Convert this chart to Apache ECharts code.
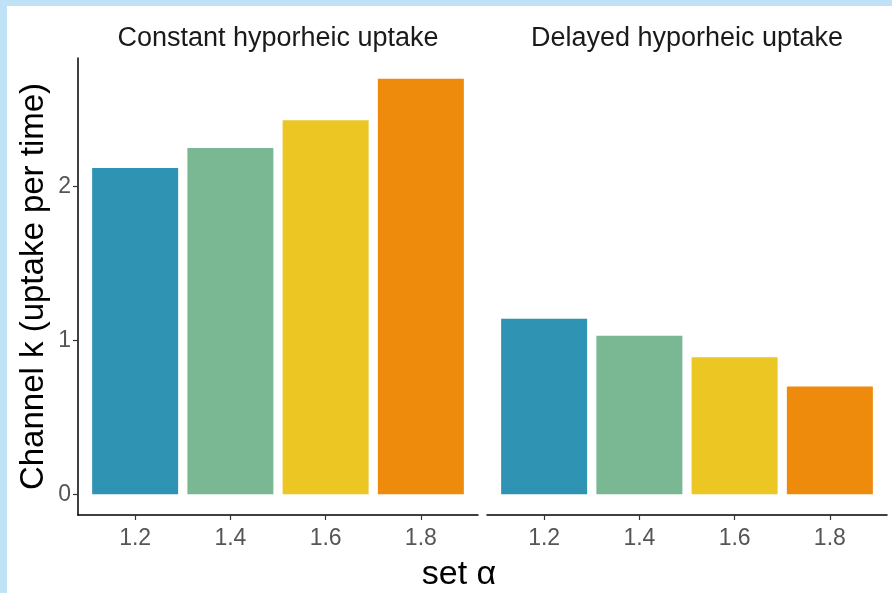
<!DOCTYPE html>
<html>
<head>
<meta charset="utf-8">
<script src="https://cdn.jsdelivr.net/npm/echarts@6/dist/echarts.min.js"></script>
<style>
  html, body { margin: 0; padding: 0; width: 892px; height: 593px; overflow: hidden; background: #c0e2f6; }
  #chart { position: absolute; left: 7px; top: 6px; width: 885px; height: 587px; background: #ffffff; }
</style>
</head>
<body>
<div id="chart"></div>
<script>
// alpha settings shown on the x axis of each facet
const alphaLabels = ['1.2', '1.4', '1.6', '1.8'];
// facet titles
const panelTitles = ['Constant hyporheic uptake', 'Delayed hyporheic uptake'];
// channel uptake rate k for each alpha
const constantK = [2.12, 2.25, 2.43, 2.70];
const delayedK = [1.14, 1.03, 0.89, 0.70];
// y tick values
const yTicks = [0, 1, 2];
// one colour per alpha
const alphaColors = ['#2f93b3', '#7ab894', '#ecc623', '#ee8b0c'];

const chart = echarts.init(document.getElementById('chart'), null, { renderer: 'canvas' });

// ggplot-style padding: 5% on the continuous axis, 0.6 category on each side
const allK = constantK.concat(delayedK);
const kMax = Math.max.apply(null, allK);
const yMin = -0.05 * kMax;
const yMax = kMax * 1.05;
const xMin = 1 - 0.6;
const xMax = alphaLabels.length + 0.6;
const xTickPos = alphaLabels.map((_, i) => i + 1);

const textFont = 'Liberation Sans, Arial, sans-serif';

function xAxisFor(gridIndex) {
  return {
    type: 'value',
    gridIndex: gridIndex,
    min: xMin,
    max: xMax,
    axisLine: { show: true, onZero: false, lineStyle: { color: '#000000', width: 1.5 } },
    axisTick: { show: true, length: 5, customValues: xTickPos, lineStyle: { color: '#333333', width: 1.2 } },
    axisLabel: {
      show: true, customValues: xTickPos, margin: 12,
      fontSize: 23, fontFamily: textFont, color: '#555555',
      formatter: v => alphaLabels[Math.round(v) - 1]
    },
    splitLine: { show: false }
  };
}

function yAxisFor(gridIndex, visible) {
  return {
    type: 'value',
    gridIndex: gridIndex,
    min: yMin,
    max: yMax,
    axisLine: { show: visible, onZero: false, lineStyle: { color: '#000000', width: 1.5 } },
    axisTick: { show: visible, length: 5, customValues: yTicks, lineStyle: { color: '#333333', width: 1.2 } },
    axisLabel: {
      show: visible, customValues: yTicks, margin: 7,
      fontSize: 23, fontFamily: textFont, color: '#555555'
    },
    splitLine: { show: false },
    name: visible ? 'Channel k (uptake per time)' : '',
    nameLocation: 'middle',
    nameRotate: 90,
    nameGap: 28,
    nameTextStyle: { fontSize: 33, fontFamily: textFont, color: '#000000' }
  };
}

function barSeries(values, gridIndex) {
  return {
    type: 'bar',
    xAxisIndex: gridIndex,
    yAxisIndex: gridIndex,
    barWidth: 86,
    data: values.map((v, i) => ({ value: [i + 1, v], itemStyle: { color: alphaColors[i] } })),
    silent: true
  };
}

const grids = [
  { left: 71, top: 52, width: 400, height: 457 },
  { left: 480, top: 52, width: 400, height: 457 }
];

chart.setOption({
  animation: false,
  backgroundColor: '#ffffff',
  grid: grids,
  xAxis: [xAxisFor(0), xAxisFor(1)],
  yAxis: [yAxisFor(0, true), yAxisFor(1, false)],
  series: [barSeries(constantK, 0), barSeries(delayedK, 1)],
  graphic: [
    {
      type: 'text', x: grids[0].left + grids[0].width / 2, y: 33,
      style: { text: panelTitles[0], align: 'center', verticalAlign: 'middle', fontSize: 27, fontFamily: textFont, fill: '#1a1a1a' }
    },
    {
      type: 'text', x: grids[1].left + grids[1].width / 2, y: 33,
      style: { text: panelTitles[1], align: 'center', verticalAlign: 'middle', fontSize: 27, fontFamily: textFont, fill: '#1a1a1a' }
    },
    {
      type: 'text', x: 452, y: 569,
      style: { text: 'set α', align: 'center', verticalAlign: 'middle', fontSize: 34, fontFamily: textFont, fill: '#000000' }
    }
  ]
});
</script>
</body>
</html>
